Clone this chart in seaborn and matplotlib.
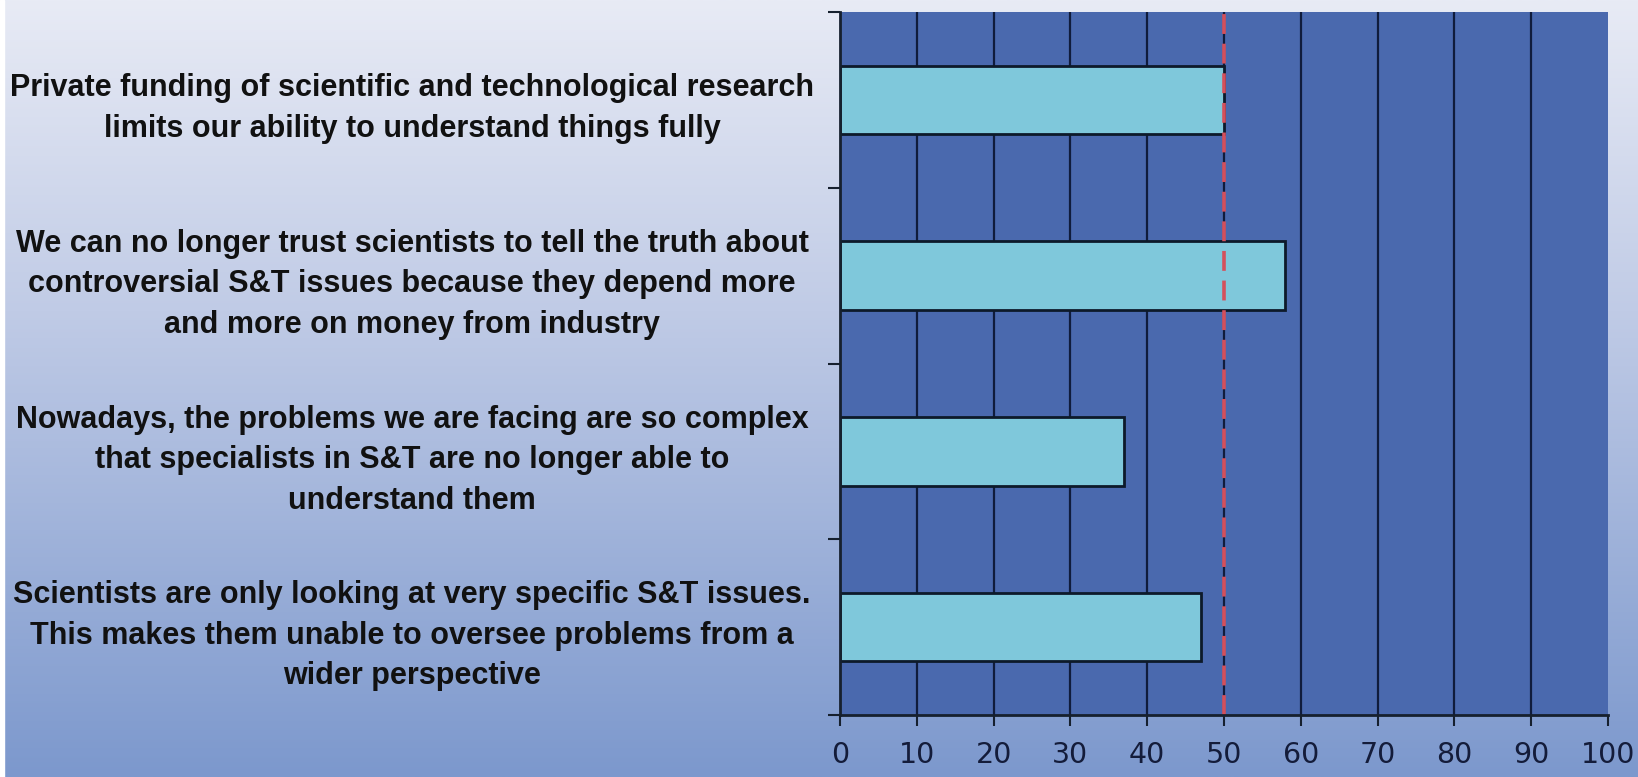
import numpy as np
import pandas as pd
import matplotlib
matplotlib.use("Agg")
import matplotlib.pyplot as plt
import seaborn as sns

statements = [
    "Private funding of scientific and technological research\nlimits our ability to understand things fully",
    "We can no longer trust scientists to tell the truth about\ncontroversial S&T issues because they depend more\nand more on money from industry",
    "Nowadays, the problems we are facing are so complex\nthat specialists in S&T are no longer able to\nunderstand them",
    "Scientists are only looking at very specific S&T issues.\nThis makes them unable to oversee problems from a\nwider perspective",
]
agree_pct = [50, 58, 37, 47]
x_ticks = [0, 10, 20, 30, 40, 50, 60, 70, 80, 90, 100]
reference_level = 50

df = pd.DataFrame({"statement": statements, "pct": agree_pct})

sns.set_theme(style="white")
plt.rcParams["font.family"] = ["DejaVu Sans"]

W, H = 1638, 777
fig = plt.figure(figsize=(W / 100, H / 100), dpi=100)

# vertical gradient backdrop
bg = fig.add_axes([0, 0, 1, 1], zorder=-10)
top_c = np.array([0xe8, 0xeb, 0xf5]) / 255
mid_c = np.array([0xc0, 0xcb, 0xe6]) / 255
bot_c = np.array([0x7c, 0x98, 0xcd]) / 255
t = np.linspace(0, 1, 400)[:, None]
grad = np.where(t < 0.4,
                top_c + (mid_c - top_c) * (t / 0.4),
                mid_c + (bot_c - mid_c) * ((t - 0.4) / 0.6))
grad = np.repeat(grad[:, None, :], 2, axis=1)
bg.imshow(grad, aspect="auto", extent=[0, 1, 0, 1])
bg.axvspan(0, 4 / W, color="white")
bg.set_xlim(0, 1)
bg.set_ylim(0, 1)
bg.axis("off")

ax = fig.add_axes([840 / W, 1 - 715 / H, 768 / W, 703 / H])
ax.set_facecolor("#4a69ae")

sns.barplot(data=df, x="pct", y="statement", orient="h", width=0.39,
            color="#7fc8db", saturation=1, edgecolor="#0d1a2a",
            linewidth=2, ax=ax, zorder=3)

ax.set_xlim(0, 100)
ax.set_ylim(len(statements) - 0.5, -0.5)

# interior vertical gridlines
ax.vlines(x_ticks[1:-1], -0.5, len(statements) - 0.5,
          colors="#101c3c", linewidth=1.6, zorder=1)
ax.axvline(reference_level, color="#d4505c", linewidth=2.6,
           dashes=(5.5, 2.7), zorder=4)

for s in ["top", "right"]:
    ax.spines[s].set_visible(False)
for s in ["left", "bottom"]:
    ax.spines[s].set_visible(True)
    ax.spines[s].set_color("#16202e")
    ax.spines[s].set_linewidth(2)
    ax.spines[s].set_zorder(5)

ax.set_xticks(x_ticks)
ax.set_xticklabels([str(v) for v in x_ticks], fontsize=20.5, color="#141c3a")
ax.tick_params(axis="x", direction="out", length=8, width=1.5,
               color="#16202e", bottom=True, pad=11)

ax.set_yticks(range(len(statements)))
ax.set_yticks(np.arange(-0.5, len(statements), 1.0), minor=True)
ax.tick_params(axis="y", which="major", length=0, pad=308)
ax.tick_params(axis="y", which="minor", direction="out", length=9,
               width=1.5, color="#16202e", left=True)
for lab in ax.get_yticklabels():
    lab.set_horizontalalignment("center")
    lab.set_fontfamily("Liberation Sans")
    lab.set_fontweight("bold")
    lab.set_fontsize(22)
    lab.set_color("#111111")
    lab.set_linespacing(1.46)

ax.set_xlabel("")
ax.set_ylabel("")

fig.savefig("out.png", dpi=100)
